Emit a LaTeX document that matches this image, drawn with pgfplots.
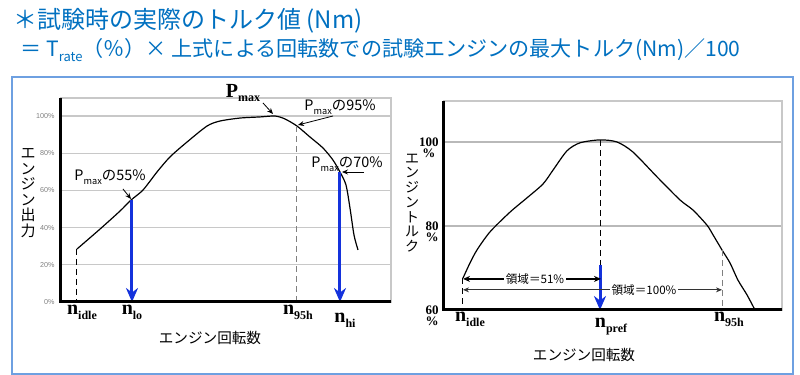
\documentclass[border=0pt]{standalone}
\usepackage{pgfplots}
\pgfplotsset{compat=1.18}
\usepackage{fontspec}
\usetikzlibrary{arrows.meta}
\setmainfont{Liberation Serif}
\newfontfamily\cjk{Noto Sans CJK JP}
\newfontfamily\lsans{Liberation Sans}
\definecolor{titleblue}{RGB}{0,112,192}
\definecolor{boxblue}{RGB}{110,160,225}
\definecolor{arrblue}{RGB}{20,50,220}
\definecolor{gridgray}{RGB}{200,200,200}
\newcommand\nlab[1]{{\fontsize{10pt}{10pt}\selectfont\bfseries n}\raisebox{-0.55ex}{\fontsize{6pt}{6pt}\selectfont\bfseries #1}}
\newcommand\Pmx[1]{P\raisebox{-0.45ex}{\fontsize{#1}{#1}\selectfont max}}
\newcommand\px[2]{({#1*0.5pt},{(375-#2)*0.5pt})}

\pgfplotstableread{
x y
77 28.5
100 39.2
120 48.9
131 54.8
143 60.2
157 69.9
170 78.0
187 86.0
207 94.6
220 97.3
240 98.9
260 99.5
275 100
285 98.4
297 94.6
310 88.7
323 82.8
333 76.3
340 69.9
346 62.9
350 50.5
354 36.0
358 28.0
}\powertable

\pgfplotstableread{
x y
463 67.6
470 71.2
477 74.3
490 78.6
510 83.3
527 86.7
543 90.0
553 93.3
567 97.9
580 99.8
600 100.5
617 100.0
633 97.6
657 91.7
680 86.2
693 83.8
707 80.2
713 77.9
722 74.3
730 71.2
738 67.1
747 63.6
755 60
}\torquetable

\begin{document}
\begin{tikzpicture}
\useasboundingbox (0,0) rectangle (400pt,187.5pt);

% titles
\node[anchor=west, text=titleblue, font=\cjk\fontsize{12pt}{13pt}\selectfont, inner sep=0] at \px{13}{21} {＊試験時の実際のトルク値 (Nm)};
\node[anchor=west, text=titleblue, font=\cjk\fontsize{10.55pt}{12pt}\selectfont, inner sep=0] at \px{20}{50} {＝ T\raisebox{-0.5ex}{\fontsize{6.5pt}{6.5pt}\selectfont rate}（％）× 上式による回転数での試験エンジンの最大トルク(Nm)／100};

\draw[boxblue, line width=0.75pt] \px{12}{77} rectangle \px{793}{374};

% ---------- left panel ----------
\begin{axis}[
  at={(30.5pt,36.5pt)}, anchor=south west,
  width=165pt, height=102pt, scale only axis,
  xmin=61, xmax=391, ymin=0, ymax=109.68,
  clip=false,
  xtick=\empty,
  ytick={0,20,40,60,80,100},
  yticklabels={0\%,20\%,40\%,60\%,80\%,100\%},
  yticklabel style={font=\lsans\fontsize{3.6pt}{4pt}\selectfont, text=gray, inner sep=0pt, xshift=-3pt},
  major tick length=0pt,
  ymajorgrids, grid style={draw=gridgray, line width=0.6pt},
  axis line style={draw=gridgray, line width=0.6pt},
]
\addplot[black, line width=0.6pt, smooth, tension=0.45] table[x=x,y=y] {\powertable};
\addplot[black, line width=0.5pt, densely dashed] coordinates {(77,28.5) (77,0)};
\addplot[gray, line width=0.5pt, densely dashed] coordinates {(297,94.6) (297,0)};
\addplot[arrblue, line width=1.5pt, -{Stealth[length=7pt,width=6pt]}] coordinates {(132,54.8) (132,0)};
\addplot[arrblue, line width=1.5pt, -{Stealth[length=7pt,width=6pt]}] coordinates {(340,69.9) (340,0)};
\draw[black, line width=1.5pt] (rel axis cs:0,1) -- (rel axis cs:0,0) -- (rel axis cs:1,0);
\end{axis}

% ---------- right panel ----------
\begin{axis}[
  at={(222pt,32.5pt)}, anchor=south west,
  width=169pt, height=104.5pt, scale only axis,
  xmin=444, xmax=782, ymin=60, ymax=109.76,
  clip=false,
  xtick=\empty,
  ytick={60,80,100},
  yticklabels={{\begin{tabular}[t]{@{}c@{}}60\\[-1.6pt]\%\end{tabular}},{\begin{tabular}[t]{@{}c@{}}80\\[-1.6pt]\%\end{tabular}},{\begin{tabular}[t]{@{}c@{}}100\\[-1.6pt]\%\end{tabular}}},
  yticklabel style={font=\fontsize{6.5pt}{7pt}\selectfont\bfseries, inner sep=0pt, anchor=base east, xshift=-2.5pt, yshift=-2.4pt},
  major tick length=0pt,
  ymajorgrids, grid style={draw=gridgray!80!gray, line width=0.6pt},
  axis line style={draw=gridgray, line width=0.8pt},
]
\addplot[black, line width=0.6pt, smooth, tension=0.45] table[x=x,y=y] {\torquetable};
\addplot[black, line width=0.5pt, densely dashed] coordinates {(463,67.6) (463,60)};
\addplot[gray, line width=0.5pt, densely dashed] coordinates {(722,74.3) (722,60)};
\addplot[black, line width=0.5pt, densely dashed] coordinates {(600,100.5) (600,60)};
\addplot[arrblue, line width=1.5pt, -{Stealth[length=7pt,width=6pt]}] coordinates {(600,70.7) (600,60)};
\addplot[black, line width=0.7pt, {Stealth[length=3.5pt,width=3pt]}-{Stealth[length=3.5pt,width=3pt]}] coordinates {(463,67.4) (601,67.4)};
\addplot[black!80, line width=0.4pt, {Stealth[length=3pt,width=2.5pt]}-{Stealth[length=3pt,width=2.5pt]}] coordinates {(463,64.8) (722,64.8)};
\draw[black, line width=1.5pt] (rel axis cs:0,1) -- (rel axis cs:0,0) -- (rel axis cs:1,0);
\end{axis}

% ---------- left annotations ----------
\node[font=\fontsize{10pt}{10pt}\selectfont\bfseries, inner sep=0] at \px{243}{93} {\Pmx{6pt}};
\draw[black, line width=0.4pt, -{Stealth[length=3pt,width=2.5pt]}] \px{263}{103} -- \px{273}{114};
\node[font=\cjk\fontsize{7.2pt}{8pt}\selectfont, inner sep=0] at \px{340}{107} {\Pmx{4.6pt}の95\%};
\draw[black, line width=0.4pt, -{Stealth[length=3pt,width=2.5pt]}] \px{333}{116} -- \px{298}{125};
\node[font=\cjk\fontsize{7.2pt}{8pt}\selectfont, inner sep=0] at \px{347}{164} {\Pmx{4.6pt}の70\%};
\draw[black, line width=0.4pt, -{Stealth[length=3pt,width=2.5pt]}] \px{364}{172} -- \px{342}{172};
\node[font=\cjk\fontsize{7.2pt}{8pt}\selectfont, inner sep=0] at \px{110}{177} {\Pmx{4.6pt}の55\%};
\draw[black, line width=0.4pt, -{Stealth[length=3pt,width=2.5pt]}] \px{123}{189} -- \px{131}{199};

\node[inner sep=0] at \px{82}{312} {\nlab{idle}};
\node[inner sep=0] at \px{132}{312} {\nlab{lo}};
\node[inner sep=0] at \px{298}{312} {\nlab{95h}};
\node[inner sep=0] at \px{345}{320} {\nlab{hi}};
\node[font=\cjk\fontsize{7.3pt}{8pt}\selectfont, inner sep=0] at \px{210}{338} {エンジン回転数};
\node[font=\cjk\fontsize{7.5pt}{7.75pt}\selectfont, align=center, inner sep=0] at \px{28}{193} {エ\\ン\\ジ\\ン\\出\\力};

% ---------- right annotations ----------
\node[font=\cjk\fontsize{5.8pt}{6pt}\selectfont, fill=white, inner sep=1pt] at \px{535}{279} {領域＝51\%};
\node[font=\cjk\fontsize{5.8pt}{6pt}\selectfont, fill=white, inner sep=1pt] at \px{644}{290} {領域＝100\%};
\node[inner sep=0] at \px{470}{319} {\nlab{idle}};
\node[inner sep=0] at \px{611}{327} {\nlab{pref}};
\node[inner sep=0] at \px{729}{319} {\nlab{95h}};
\node[font=\cjk\fontsize{7.3pt}{8pt}\selectfont, inner sep=0] at \px{584}{355} {エンジン回転数};
\node[font=\cjk\fontsize{7pt}{7.35pt}\selectfont, align=center, inner sep=0] at \px{412}{203} {エ\\ン\\ジ\\ン\\ト\\ル\\ク};
\end{tikzpicture}
\end{document}
